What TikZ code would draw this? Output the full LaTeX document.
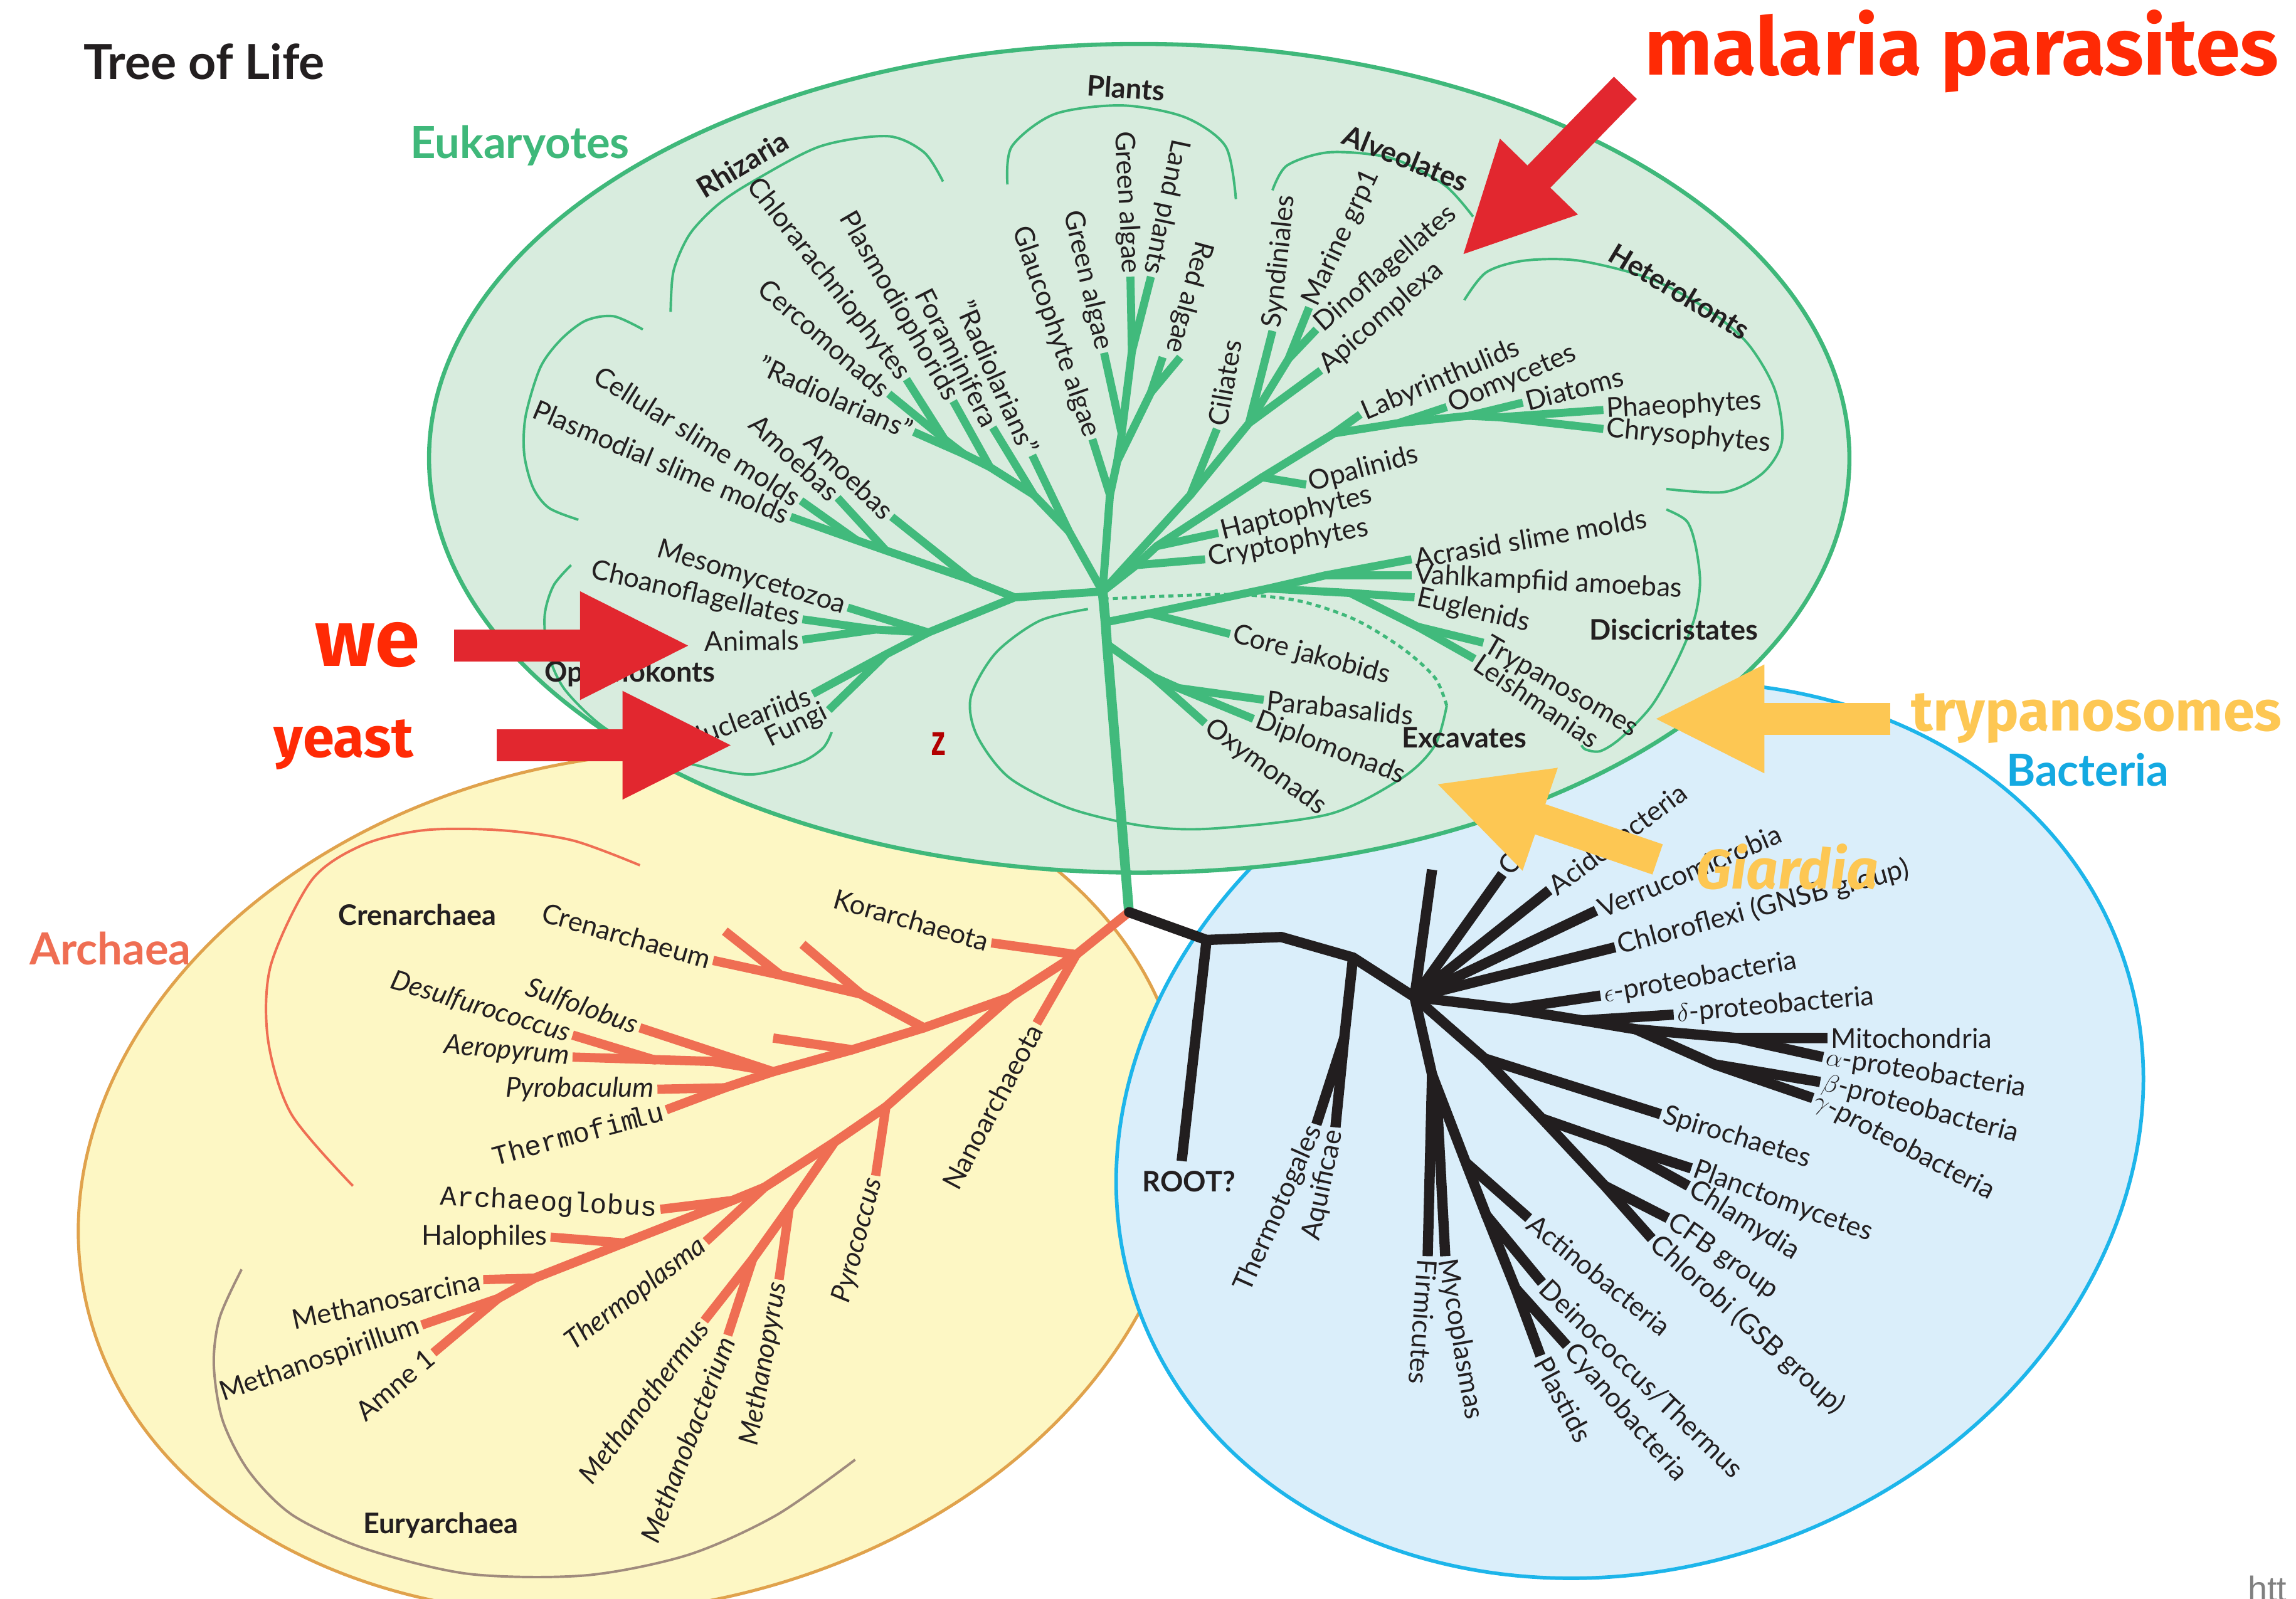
\documentclass[tikz,border=0pt]{standalone}
\usepackage{graphicx}
\usepackage{fontspec}
\setmainfont{Lato}
\newfontfamily\annfont{Fira Sans}
\newfontfamily\courfont{Liberation Mono}
\newfontfamily\zfont{Liberation Sans}
\usetikzlibrary{arrows.meta}
\definecolor{eukfill}{HTML}{D8ECDE}
\definecolor{eukline}{HTML}{3FB87A}
\definecolor{eukgreen}{HTML}{41BA7C}
\definecolor{arkfill}{HTML}{FDF7C4}
\definecolor{arkline}{HTML}{E0A24C}
\definecolor{arkred}{HTML}{EF6E53}
\definecolor{euryarc}{HTML}{A08B7D}
\definecolor{bacfill}{HTML}{DAEEFA}
\definecolor{bacline}{HTML}{1DB5EA}
\definecolor{bacblack}{HTML}{221E1F}
\definecolor{ink}{HTML}{231F20}
\definecolor{malred}{HTML}{FF2A05}
\definecolor{arrred}{HTML}{E2272F}
\definecolor{yel}{HTML}{FDC753}
\definecolor{baclabel}{HTML}{14A9E1}
\definecolor{zred}{HTML}{B20000}
\begin{document}
\begin{tikzpicture}[x=0.5mm,y=-0.5mm,
  euk/.style={draw=eukgreen,line width=7.8pt,line join=round},
  ark/.style={draw=arkred,line width=9pt,line join=round},
  bac/.style={draw=bacblack,line width=10pt,line join=round},
  eukarc/.style={draw=eukline,line width=2.4pt},
  lbl/.style={font=\fontsize{26.5}{28}\selectfont,text=ink,inner sep=3pt},
  ilbl/.style={lbl,font=\fontsize{26.5}{28}\selectfont\itshape},
  mlbl/.style={lbl,font=\fontsize{27}{29}\selectfont\courfont},
  clade/.style={font=\fontsize{27.5}{29}\selectfont\bfseries,text=ink,inner sep=0pt},
  domlbl/.style={font=\fontsize{43}{46}\selectfont\bfseries,inner sep=0pt,anchor=base west},
  note/.style={inner sep=0pt,anchor=base west},
  fat/.style={line width=31pt,-{Triangle[length=108pt,width=97pt]}}]
\useasboundingbox (0,0) rectangle (1568,1092);

\filldraw[fill=arkfill,draw=arkline,line width=3pt,rotate around={12:(432,808)}] (432,808) ellipse (382 and 290);
\filldraw[fill=bacfill,draw=bacline,line width=3.5pt,rotate around={20:(1113,772)}] (1113,772) ellipse (357 and 298.5);
\filldraw[fill=eukfill,draw=eukline,line width=4pt] (778,313) ellipse (485 and 283);

\draw[eukarc] plot[smooth] coordinates {(439,225) (419,216) (400,219) (383,232) (369,251) (359,284) (358,310) (364,333) (375,347) (395,355)};
\draw[eukarc] plot[smooth] coordinates {(458,213) (460,185) (471,160) (490,140) (514,124) (560,100) (606,93) (631,104) (644,124)};
\draw[eukarc] plot[smooth] coordinates {(688,126) (691,100) (720,78) (766,72) (809,80) (837,100) (844,136)};
\draw[eukarc] plot[smooth] coordinates {(869,130) (879,113) (908,104) (950,108) (986,126) (1006,148)};
\draw[eukarc] plot[smooth] coordinates {(1000,205) (1015,186) (1041,178) (1078,178) (1126,190) (1164,210) (1193,234) (1212,266) (1217,301) (1204,323) (1178,336) (1138,334)};
\draw[eukarc] plot[smooth] coordinates {(1138,348) (1152,356) (1158,373) (1161,398) (1157,423) (1145,452) (1128,482) (1107,504) (1093,513) (1083,512) (1080,509)};
\draw[eukarc] plot[smooth] coordinates {(390,386) (378,400) (372,420) (374,445) (385,470) (410,495) (440,512) (477,523) (513,529) (546,521) (562,511) (568,500)};
\draw[eukarc] plot[smooth] coordinates {(743,416) (710,424) (680,446) (663,476) (667,502) (689,531) (730,552) (780,564) (827,566) (908,556) (958,531) (980,509) (988,482)};
\draw[eukline,line width=3pt,dash pattern=on 5pt off 4pt] plot[smooth] coordinates {(988,482) (980,463) (958,443) (925,423) (885,410) (836,406) (757,409)};
\draw[arkred,line width=2.4pt] plot[smooth] coordinates {(437,591) (391,574) (341,567) (290,567) (248,577) (213,601) (185,659) (183,710) (199,761) (241,810)};
\draw[euryarc,line width=2.4pt] plot[smooth] coordinates {(165,867) (150,900) (146,932) (152,970) (170,1005) (200,1035) (250,1058) (320,1075) (400,1076) (470,1062) (530,1035) (584,997)};

\coordinate (R) at (771,623);
\coordinate (ec) at (753,404);
\coordinate (d0) at (755,425);
\coordinate (ex0) at (756,440);
\coordinate (o0) at (693,408);
\coordinate (a1) at (663,396);
\coordinate (a3) at (605,376);
\coordinate (a4) at (585,369);
\coordinate (op1) at (634,432);
\coordinate (op2) at (598,430);
\coordinate (f1) at (605,447);
\coordinate (r0) at (730,363);
\coordinate (r1) at (706,338);
\coordinate (r2) at (676,319);
\coordinate (r3) at (658,310);
\coordinate (r4) at (645,300);
\coordinate (pl0) at (758,338);
\coordinate (pl0b) at (763,315);
\coordinate (pl1) at (766,296);
\coordinate (pl2) at (773,240);
\coordinate (rn) at (786,268);
\coordinate (av0) at (813,338);
\coordinate (av1) at (853,289);
\coordinate (av3) at (880,245);
\coordinate (h0) at (776,386);
\coordinate (h1) at (790,373);
\coordinate (hk0) at (862,326);
\coordinate (hk1) at (911,296);
\coordinate (hk2) at (955,289);
\coordinate (hk3) at (1003,284);
\coordinate (hk4) at (1024,285);
\coordinate (dj) at (785,419);
\coordinate (dc0) at (866,402);
\coordinate (dc1) at (905,393);
\coordinate (dc2) at (922,405);
\coordinate (dt) at (968,428);
\coordinate (ex1) at (787,462);
\coordinate (ex2) at (805,470);

\coordinate (plasm) at (540,353);
\coordinate (cell) at (547,342);
\coordinate (amb1) at (572,340);
\coordinate (amb2) at (609,353);
\coordinate (meso) at (579,415);
\coordinate (choa) at (548,423);
\coordinate (anim) at (548,437);
\coordinate (nucl) at (555,474);
\coordinate (fung) at (566,485);
\coordinate (rad2) at (705,311);
\coordinate (fora) at (678,292);
\coordinate (plsd) at (651,274);
\coordinate (rad1) at (624,295);
\coordinate (cerc) at (607,269);
\coordinate (chlr) at (619,259);
\coordinate (glau) at (746,300);
\coordinate (gre2) at (754,241);
\coordinate (gre1) at (772,189);
\coordinate (land) at (786,189);
\coordinate (red1) at (794,244);
\coordinate (red2) at (806,244);
\coordinate (redt) at (801,243);
\coordinate (cil) at (831,293);
\coordinate (synd) at (869,226);
\coordinate (mari) at (894,210);
\coordinate (dino) at (899,225);
\coordinate (apic) at (902,253);
\coordinate (cryp) at (823,382);
\coordinate (hapt) at (832,364);
\coordinate (opal) at (892,331);
\coordinate (laby) at (929,283);
\coordinate (oomy) at (988,278);
\coordinate (diat) at (1040,275);
\coordinate (phae) at (1095,280);
\coordinate (chry) at (1095,293);
\coordinate (cjak) at (840,433);
\coordinate (acra) at (964,382);
\coordinate (vahl) at (964,393);
\coordinate (eugl) at (966,408);
\coordinate (tryp) at (1013,439);
\coordinate (leis) at (1007,450);
\coordinate (oxym) at (823,494);
\coordinate (para) at (863,478);
\coordinate (dipl) at (856,491);

\coordinate (ak) at (735,652);
\coordinate (e0) at (690,681);
\coordinate (cr0) at (631,702);
\coordinate (cr1) at (588,679);
\coordinate (cr2) at (533,666);
\coordinate (c1) at (582,717);
\coordinate (s0) at (528,732);
\coordinate (s1) at (487,725);
\coordinate (s2) at (447,724);
\coordinate (p0) at (495,743);
\coordinate (y0) at (605,756);
\coordinate (m0) at (570,780);
\coordinate (m1) at (539,825);
\coordinate (m2) at (514,860);
\coordinate (t0) at (522,811);
\coordinate (ag) at (500,820);
\coordinate (hl) at (426,849);
\coordinate (ms) at (365,873);
\coordinate (sp) at (340,887);
\coordinate (kor) at (677,644);
\coordinate (nano) at (708,699);
\coordinate (crn) at (487,656);
\coordinate (unl1) at (548,645);
\coordinate (unl2) at (495,636);
\coordinate (unl3) at (528,709);
\coordinate (sulf) at (437,702);
\coordinate (desu) at (391,707);
\coordinate (aero) at (391,722);
\coordinate (pyrob) at (449,744);
\coordinate (thfm) at (455,758);
\coordinate (pyroc) at (598,803);
\coordinate (mpyr) at (532,874);
\coordinate (mthe) at (481,902);
\coordinate (mbac) at (497,912);
\coordinate (tpl) at (482,848);
\coordinate (arch) at (451,826);
\coordinate (halo) at (376,845);
\coordinate (msar) at (330,874);
\coordinate (mspi) at (288,905);
\coordinate (amne) at (296,924);

\coordinate (b1) at (824,642);
\coordinate (b2) at (875,640);
\coordinate (b3) at (924,654);
\coordinate (tq) at (918,709);
\coordinate (b4) at (966,681);
\coordinate (ep) at (1032,689);
\coordinate (de) at (1081,697);
\coordinate (pr) at (1117,703);
\coordinate (ma) at (1186,709);
\coordinate (bg) at (1171,727);
\coordinate (sp0) at (1014,723);
\coordinate (pc) at (1053,764);
\coordinate (pc2) at (1099,780);
\coordinate (cf) at (1096,810);
\coordinate (g0) at (978,734);
\coordinate (g1) at (981,745);
\coordinate (ac) at (1001,794);
\coordinate (dn) at (1015,830);
\coordinate (cy) at (1035,880);
\coordinate (rootq) at (807,793);
\coordinate (ttg) at (899,768);
\coordinate (aqu) at (912,770);
\coordinate (bl0) at (978,594);
\coordinate (bC) at (1026,597);
\coordinate (acid) at (1058,608);
\coordinate (verr) at (1090,622);
\coordinate (chlx) at (1103,647);
\coordinate (eps) at (1093,680);
\coordinate (del) at (1143,693);
\coordinate (mito) at (1248,709);
\coordinate (alp) at (1245,722);
\coordinate (bet) at (1243,739);
\coordinate (gam) at (1238,750);
\coordinate (spir) at (1134,761);
\coordinate (plan) at (1155,798);
\coordinate (chla) at (1153,810);
\coordinate (cfb) at (1139,832);
\coordinate (chlb) at (1128,846);
\coordinate (firm) at (975,858);
\coordinate (myco) at (987,858);
\coordinate (acti) at (1044,832);
\coordinate (dein) at (1053,876);
\coordinate (cyan) at (1070,919);
\coordinate (plas) at (1052,926);

\draw[euk,line width=9.5pt] (R) -- (ex0) -- (d0) -- (ec);
\draw[euk] (ec) -- (o0) -- (a1) -- (a3) -- (a4) -- (plasm);
\draw[euk] (a4) -- (cell);
\draw[euk] (a3) -- (amb1);
\draw[euk] (a1) -- (amb2);
\draw[euk] (o0) -- (op1) -- (meso);
\draw[euk] (op1) -- (op2) -- (anim);
\draw[euk] (op2) -- (choa);
\draw[euk] (op1) -- (f1) -- (nucl);
\draw[euk] (f1) -- (fung);
\draw[euk] (ec) -- (r0) -- (rad2);
\draw[euk] (r0) -- (r1) -- (fora);
\draw[euk] (r1) -- (r2) -- (plsd);
\draw[euk] (r2) -- (r3) -- (rad1);
\draw[euk] (r3) -- (r4) -- (cerc);
\draw[euk] (r4) -- (chlr);
\draw[euk] (ec) -- (pl0) -- (glau);
\draw[euk] (pl0) -- (pl0b) -- (rn) -- (red1);
\draw[euk] (rn) -- (red2);
\draw[euk] (pl0b) -- (pl1) -- (gre2);
\draw[euk] (pl1) -- (pl2) -- (gre1);
\draw[euk] (pl2) -- (land);
\draw[euk] (ec) -- (av0) -- (cil);
\draw[euk] (av0) -- (av1) -- (synd);
\draw[euk] (av1) -- (apic);
\draw[euk] (av1) -- (av3) -- (mari);
\draw[euk] (av3) -- (dino);
\draw[euk] (ec) -- (h0) -- (cryp);
\draw[euk] (h0) -- (h1) -- (hapt);
\draw[euk] (h1) -- (hk0) -- (opal);
\draw[euk] (hk0) -- (hk1) -- (laby);
\draw[euk] (hk1) -- (hk2) -- (oomy);
\draw[euk] (hk2) -- (hk3) -- (diat);
\draw[euk] (hk3) -- (hk4) -- (phae);
\draw[euk] (hk4) -- (chry);
\draw[euk] (d0) -- (dj) -- (cjak);
\draw[euk] (dj) -- (dc0) -- (dc1) -- (acra);
\draw[euk] (dc1) -- (vahl);
\draw[euk] (dc0) -- (dc2) -- (eugl);
\draw[euk] (dc2) -- (dt) -- (tryp);
\draw[euk] (dt) -- (leis);
\draw[euk] (ex0) -- (ex1) -- (oxym);
\draw[euk] (ex1) -- (ex2) -- (para);
\draw[euk] (ex2) -- (dipl);
\foreach \n in {ec,d0,ex0,o0,a1,a3,a4,op1,op2,f1,r0,r1,r2,r3,r4,pl0,pl0b,pl1,pl2,rn,av0,av1,av3,h0,h1,hk0,hk1,hk2,hk3,hk4,dj,dc0,dc1,dc2,dt,ex1,ex2}
  \fill[eukgreen] (\n) circle (2.7);

\draw[ark] (R) -- (ak) -- (kor);
\draw[ark] (ak) -- (nano);
\draw[ark] (ak) -- (e0) -- (cr0) -- (cr1) -- (unl1);
\draw[ark] (cr1) -- (cr2) -- (crn);
\draw[ark] (cr2) -- (unl2);
\draw[ark] (cr0) -- (c1) -- (unl3);
\draw[ark] (c1) -- (s0) -- (sulf);
\draw[ark] (s0) -- (s1) -- (aero);
\draw[ark] (s2) -- (desu);
\draw[ark] (s0) -- (p0) -- (pyrob);
\draw[ark] (p0) -- (thfm);
\draw[ark] (e0) -- (y0) -- (pyroc);
\draw[ark] (y0) -- (m0) -- (m1) -- (mpyr);
\draw[ark] (m1) -- (m2) -- (mthe);
\draw[ark] (m2) -- (mbac);
\draw[ark] (m0) -- (t0) -- (tpl);
\draw[ark] (t0) -- (ag) -- (arch);
\draw[ark] (ag) -- (hl) -- (halo);
\draw[ark] (hl) -- (ms) -- (msar);
\draw[ark] (ms) -- (sp) -- (mspi);
\draw[ark] (sp) -- (amne);
\foreach \n in {ak,e0,cr0,cr1,cr2,c1,s0,s1,s2,p0,y0,m0,m1,m2,t0,ag,hl,ms,sp}
  \fill[arkred] (\n) circle (3.1);

\draw[bac] (R) -- (b1) -- (b2) -- (b3) -- (b4);
\draw[bac] (b1) -- (rootq);
\draw[bac] (b3) -- (tq) -- (ttg);
\draw[bac] (tq) -- (aqu);
\draw[bac] (b4) -- (bl0);
\draw[bac] (b4) -- (bC);
\draw[bac] (b4) -- (acid);
\draw[bac] (b4) -- (verr);
\draw[bac] (b4) -- (chlx);
\draw[bac] (b4) -- (ep) -- (eps);
\draw[bac] (ep) -- (de) -- (del);
\draw[bac] (de) -- (pr) -- (ma) -- (mito);
\draw[bac] (ma) -- (alp);
\draw[bac] (pr) -- (bg) -- (bet);
\draw[bac] (bg) -- (gam);
\draw[bac] (b4) -- (sp0) -- (spir);
\draw[bac] (sp0) -- (pc) -- (pc2) -- (plan);
\draw[bac] (pc2) -- (chla);
\draw[bac] (pc) -- (cf) -- (chlb);
\draw[bac] (cf) -- (cfb);
\draw[bac] (b4) -- (g0) -- (firm);
\draw[bac] (g0) -- (g1) -- (myco);
\draw[bac] (g0) -- (ac) -- (acti);
\draw[bac] (ac) -- (dn) -- (dein);
\draw[bac] (dn) -- (cy) -- (cyan);
\draw[bac] (cy) -- (plas);
\foreach \n in {R,b1,b2,b3,b4,tq,ep,de,pr,ma,bg,sp0,pc,pc2,cf,g0,g1,ac,dn,cy}
  \fill[bacblack] (\n) circle (3.4);

\node[lbl,anchor=east,rotate=-23] (t-plasm) at (plasm) {Plasmodial slime molds};
\node[lbl,anchor=east,rotate=-32] (t-cell) at (cell) {Cellular slime molds};
\node[lbl,anchor=east,rotate=-43] (t-amb1) at (amb1) {Amoebas};
\node[lbl,anchor=east,rotate=-44] (t-amb2) at (amb2) {Amoebas};
\node[lbl,anchor=east,rotate=-24] (t-rad1) at (rad1) {"Radiolarians"};
\node[lbl,anchor=east,rotate=-41] (t-cerc) at (cerc) {Cercomonads};
\node[lbl,anchor=east,rotate=-52] (t-chlr) at (chlr) {Chlorarachniophytes};
\node[lbl,anchor=east,rotate=-60] (t-plsd) at (plsd) {Plasmodiophorids};
\node[lbl,anchor=east,rotate=-63] (t-fora) at (fora) {Foraminifera};
\node[lbl,anchor=east,rotate=-66] (t-rad2) at (rad2) {"Radiolarians"};
\node[lbl,anchor=east,rotate=-71] (t-glau) at (glau) {Glaucophyte algae};
\node[lbl,anchor=east,rotate=-77] (t-gre2) at (gre2) {Green algae};
\node[lbl,anchor=east,rotate=-87] (t-gre1) at (gre1) {Green algae};
\node[lbl,anchor=east,rotate=-102] (t-land) at (land) {Land plants};
\node[lbl,anchor=east,rotate=-105] (t-red) at (redt) {Red algae};
\node[lbl,anchor=east,rotate=-17] (t-meso) at (meso) {Mesomycetozoa};
\node[lbl,anchor=east,rotate=-13] (t-choa) at (choa) {Choanoflagellates};
\node[lbl,anchor=east,rotate=1] (t-anim) at (anim) {Animals};
\node[lbl,anchor=east,rotate=20] (t-nucl) at (nucl) {Nucleariids};
\node[lbl,anchor=east,rotate=26] (t-fung) at (fung) {Fungi};
\node[lbl,anchor=west,rotate=80] (t-cil) at (cil) {Ciliates};
\node[lbl,anchor=west,rotate=84] (t-synd) at (synd) {Syndiniales};
\node[lbl,anchor=west,rotate=65] (t-mari) at (mari) {Marine grp1};
\node[lbl,anchor=west,rotate=41] (t-dino) at (dino) {Dinoflagellates};
\node[lbl,anchor=west,rotate=41] (t-apic) at (apic) {Apicomplexa};
\node[lbl,anchor=west,rotate=23] (t-laby) at (laby) {Labyrinthulids};
\node[lbl,anchor=west,rotate=23] (t-oomy) at (oomy) {Oomycetes};
\node[lbl,anchor=west,rotate=15] (t-diat) at (diat) {Diatoms};
\node[lbl,anchor=west,rotate=3] (t-phae) at (phae) {Phaeophytes};
\node[lbl,anchor=west,rotate=-5] (t-chry) at (chry) {Chrysophytes};
\node[lbl,anchor=west,rotate=15] (t-opal) at (opal) {Opalinids};
\node[lbl,anchor=west,rotate=14] (t-hapt) at (hapt) {Haptophytes};
\node[lbl,anchor=west,rotate=11] (t-cryp) at (cryp) {Cryptophytes};
\node[lbl,anchor=west,rotate=10] (t-acra) at (acra) {Acrasid slime molds};
\node[lbl,anchor=west,rotate=-3] (t-vahl) at (vahl) {Vahlkampfiid amoebas};
\node[lbl,anchor=west,rotate=-13] (t-eugl) at (eugl) {Euglenids};
\node[lbl,anchor=west,rotate=-30] (t-tryp) at (tryp) {Trypanosomes};
\node[lbl,anchor=west,rotate=-34] (t-leis) at (leis) {Leishmanias};
\node[lbl,anchor=west,rotate=-15] (t-cjak) at (cjak) {Core jakobids};
\node[lbl,anchor=west,rotate=-6] (t-para) at (para) {Parabasalids};
\node[lbl,anchor=west,rotate=-21] (t-dipl) at (dipl) {Diplomonads};
\node[lbl,anchor=west,rotate=-36] (t-oxym) at (oxym) {Oxymonads};

\node[lbl,anchor=east,rotate=-16] (t-kor) at (kor) {Korarchaeota};
\node[lbl,anchor=east,rotate=62] (t-nano) at (nano) {Nanoarchaeota};
\node[lbl,anchor=east,rotate=-16] (t-crn) at (crn) {Crenarchaeum};
\node[ilbl,anchor=east,rotate=-20] (t-sulf) at (sulf) {Sulfolobus};
\node[ilbl,anchor=east,rotate=-17] (t-desu) at (desu) {Desulfurococcus};
\node[ilbl,anchor=east,rotate=-5] (t-aero) at (aero) {Aeropyrum};
\node[ilbl,anchor=east] (t-pyrob) at (pyrob) {Pyrobaculum};
\node[mlbl,anchor=east,rotate=15] (t-thfm) at (thfm) {Thermofi\rlap{m}\hspace{.35em}lu};
\node[mlbl,anchor=east,rotate=-3] (t-arch) at (arch) {Archaeoglobus};
\node[lbl,anchor=east] (t-halo) at (halo) {Halophiles};
\node[lbl,anchor=east,rotate=12] (t-msar) at (msar) {Methanosarcina};
\node[lbl,anchor=east,rotate=19] (t-mspi) at (mspi) {Methanospirillum};
\node[lbl,anchor=east,rotate=40] (t-amne) at (amne) {Amne 1};
\node[ilbl,anchor=east,rotate=37] (t-tpl) at (tpl) {Thermoplasma};
\node[ilbl,anchor=east,rotate=53] (t-mthe) at (mthe) {Methanothermus};
\node[ilbl,anchor=east,rotate=69] (t-mbac) at (mbac) {Methanobacterium};
\node[ilbl,anchor=east,rotate=80] (t-mpyr) at (mpyr) {Methanopyrus};
\node[ilbl,anchor=east,rotate=75] (t-pyroc) at (pyroc) {Pyrococcus};

\node[lbl,anchor=east,rotate=66] (t-ttg) at (ttg) {Thermotogales};
\node[lbl,anchor=east,rotate=78] (t-aqu) at (aqu) {Aquificae};
\node[lbl,anchor=west,rotate=-94] (t-firm) at (firm) {Firmicutes};
\node[lbl,anchor=west,rotate=-80] (t-myco) at (myco) {Mycoplasmas};
\node[lbl,anchor=west,rotate=-39] (t-acti) at (acti) {Actinobacteria};
\node[lbl,anchor=west,rotate=-44] (t-dein) at (dein) {Deinococcus/Thermus};
\node[lbl,anchor=west,rotate=-49] (t-cyan) at (cyan) {Cyanobacteria};
\node[lbl,anchor=west,rotate=-62] (t-plas) at (plas) {Plastids};
\node[lbl,anchor=west,rotate=-42] (t-chlb) at (chlb) {Chlorobi (GSB group)};
\node[lbl,anchor=west,rotate=-35] (t-cfb) at (cfb) {CFB group};
\node[lbl,anchor=west,rotate=-32] (t-chla) at (chla) {Chlamydia};
\node[lbl,anchor=west,rotate=-20] (t-plan) at (plan) {Planctomycetes};
\node[lbl,anchor=west,rotate=-17] (t-spir) at (spir) {Spirochaetes};
\node[lbl,anchor=west,rotate=-28] (t-gam) at (gam) {$\gamma$-proteobacteria};
\node[lbl,anchor=west,rotate=-15] (t-bet) at (bet) {$\beta$-proteobacteria};
\node[lbl,anchor=west,rotate=-9] (t-alp) at (alp) {$\alpha$-proteobacteria};
\node[lbl,anchor=west] (t-mito) at (mito) {Mitochondria};
\node[lbl,anchor=west,rotate=5] (t-del) at (del) {$\delta$-proteobacteria};
\node[lbl,anchor=west,rotate=10] (t-eps) at (eps) {$\epsilon$-proteobacteria};
\node[lbl,anchor=west,rotate=15] (t-chlx) at (chlx) {Chloroflexi (GNSB group)};
\node[lbl,anchor=west,rotate=23] (t-verr) at (verr) {Verrucomicrobia};
\node[lbl,anchor=west,rotate=37] (t-acid) at (acid) {Acidobacteria};
\node[lbl,anchor=west,rotate=55] (t-bC) at (bC) {C};

\node[clade,rotate=31] (c-rhiz) at (507,112) {Rhizaria};
\node[clade,rotate=-4] (c-plnt) at (769,60) {Plants};
\node[clade,rotate=-22] (c-alve) at (960,108) {Alveolates};
\node[clade,rotate=-31] (c-hete) at (1147,199) {Heterokonts};
\node[clade] (c-disc) at (1143,430) {Discicristates};
\node[clade] (c-exca) at (1000,504) {Excavates};
\node[clade] (c-opis) at (430,460) {Opisthokonts};
\node[clade] (c-cren) at (285,625) {Crenarchaea};
\node[clade] (c-eury) at (301,1042) {Euryarchaea};
\node[clade] (c-root) at (812,807) {ROOT?};

\node[domlbl,text=ink,font=\fontsize{47}{50}\selectfont\bfseries] (title) at (57,54) {Tree of Life};
\node[domlbl,text=eukline] (d-euk) at (280,108) {Eukaryotes};
\node[domlbl,text=arkred] (d-ark) at (20,659) {Archaea};
\node[domlbl,text=baclabel] (d-bac) at (1370,537) {Bacteria};
\node[text=zred,font=\zfont\bfseries\fontsize{42}{44}\selectfont,inner sep=0pt] (zz) at (641,508) {\scalebox{0.7}[1]{z}};
\node[anchor=north west,text=gray,font=\zfont\fontsize{34}{36}\selectfont,inner sep=0pt] (url) at (1535,1076) {htt};

\coordinate (mal-s) at (1110,60);
\coordinate (mal-t) at (998,175);
\coordinate (wa-s) at (310,441);
\coordinate (wa-t) at (472,441);
\coordinate (ya-s) at (339,509);
\coordinate (ya-t) at (501,509);
\coordinate (ta-s) at (1291,491);
\coordinate (ta-t) at (1129,491);
\coordinate (ga-s) at (1132,587);
\coordinate (ga-t) at (980,535);
\draw[fat,draw=arrred] (mal-s) -- (mal-t);
\draw[fat,draw=arrred] (wa-s) -- (wa-t);
\draw[fat,draw=arrred] (ya-s) -- (ya-t);
\draw[fat,draw=yel] (ta-s) -- (ta-t);
\draw[fat,draw=yel] (ga-s) -- (ga-t);

\node[note,text=malred,font=\annfont\bfseries\fontsize{78}{86}\selectfont] (malaria) at (1123,51) {malaria parasites};
\node[note,text=malred,font=\annfont\bfseries\fontsize{78}{86}\selectfont] (we) at (215,455) {we};
\node[note,text=malred,font=\annfont\bfseries\fontsize{55}{60}\selectfont] (yeast) at (187,517) {yeast};
\node[note,text=yel,font=\annfont\bfseries\fontsize{55}{60}\selectfont] (trypano) at (1305,499) {trypanosomes};
\node[note,text=yel,font=\annfont\bfseries\itshape\fontsize{54}{60}\selectfont] (giardia) at (1158,607) {Giardia};
\end{tikzpicture}
\end{document}
